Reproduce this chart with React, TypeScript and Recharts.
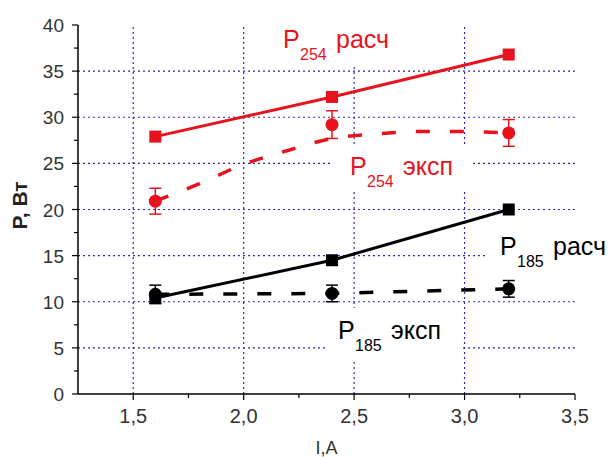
import React from "react";
import {
  ComposedChart,
  Line,
  Scatter,
  ErrorBar,
  XAxis,
  YAxis,
  ReferenceLine
} from "recharts";

// current, A
const currentA = [1.6, 2.4, 3.2];

// P254 calculated / measured, W
const p254Calc = [27.9, 32.2, 36.8];
const p254Exp = [20.9, 29.2, 28.3];
const p254ExpErr = [1.4, 1.5, 1.45];

const p254TrendX = [1.6, 1.8, 2.0, 2.2, 2.4, 2.6, 2.8, 3.0, 3.2];
const p254TrendY = [20.9, 22.8, 24.9, 26.4, 27.7, 28.2, 28.45, 28.45, 28.3];

// P185 calculated / measured, W
const p185Calc = [10.4, 14.5, 20.0];
const p185Exp = [10.8, 10.9, 11.4];
const p185ExpErr = [1.0, 0.9, 0.9];

const xMajor = [1.5, 2.0, 2.5, 3.0, 3.5];
const xMinor = [1.75, 2.25, 2.75, 3.25];
const yMajor = [0, 5, 10, 15, 20, 25, 30, 35, 40];
const yMinor = [2.5, 7.5, 12.5, 17.5, 22.5, 27.5, 32.5, 37.5];
const gridX = [1.5, 2.0, 2.5, 3.0];
const gridY = [5, 10, 15, 20, 25, 30, 35];

const RED = "#e8121c";
const BLUE = "#2b2bb0";
const FONT = "'Liberation Sans', Arial, sans-serif";

const toSeries = (xs: number[], ys: number[], errs?: number[]) =>
  xs.map((x, i) => ({ x, y: ys[i], err: errs ? errs[i] : 0 }));

const commaNum = (v: number) => v.toFixed(1).replace(".", ",");

const XTick = (props: any) => {
  const { x, y, payload } = props;
  const major = xMajor.includes(payload.value);
  return (
    <g>
      <line x1={x} x2={x} y1={y} y2={y + (major ? 6 : 4)} stroke="#000" strokeWidth={1.2} />
      {major && (
        <text x={x} y={y + 29} textAnchor="middle" fontSize={20} fill="#333" fontFamily={FONT}>
          {commaNum(payload.value)}
        </text>
      )}
    </g>
  );
};

const YTick = (props: any) => {
  const { x, y, payload } = props;
  const major = yMajor.includes(payload.value);
  return (
    <g>
      <line x1={x} x2={x - (major ? 6 : 4)} y1={y} y2={y} stroke="#000" strokeWidth={1.2} />
      {major && (
        <text x={x - 14} y={y + 7} textAnchor="end" fontSize={19} fill="#333" fontFamily={FONT}>
          {payload.value}
        </text>
      )}
    </g>
  );
};

const squareDot = (color: string) => (props: any) => {
  const { cx, cy, index } = props;
  return <rect key={index} x={cx - 6} y={cy - 6} width={12} height={12} fill={color} />;
};

const circleShape = (color: string) => (props: any) => {
  const { cx, cy } = props;
  return <circle cx={cx} cy={cy} r={6.5} fill={color} />;
};

// series label with a white box knocking out the grid behind it
function SeriesLabel({
  box,
  x,
  baseline,
  sub,
  word,
  color
}: {
  box: [number, number, number, number];
  x: number;
  baseline: number;
  sub: string;
  word: string;
  color: string;
}) {
  return (
    <g>
      <rect x={box[0]} y={box[1]} width={box[2]} height={box[3]} fill="#fff" />
      <text x={x} y={baseline} fontSize={25} fill={color} fontFamily={FONT}>
        P
      </text>
      <text x={x + 17} y={baseline + 12} fontSize={16} fill={color} fontFamily={FONT}>
        {sub}
      </text>
      <text x={x + 53} y={baseline} fontSize={25} fill={color} fontFamily={FONT}>
        {word}
      </text>
    </g>
  );
}

export default function App() {
  const calc254 = toSeries(currentA, p254Calc);
  const exp254 = toSeries(currentA, p254Exp, p254ExpErr);
  const trend254 = toSeries(p254TrendX, p254TrendY);
  const calc185 = toSeries(currentA, p185Calc);
  const exp185 = toSeries(currentA, p185Exp, p185ExpErr);

  return (
    <div style={{ position: "absolute", left: 0, top: 0, width: 615, height: 457, background: "#fff" }}>
      <ComposedChart
        width={615}
        height={457}
        margin={{ top: 25, right: 40, left: 0, bottom: 0 }}
      >
        <XAxis
          dataKey="x"
          type="number"
          domain={[1.25, 3.5]}
          ticks={[...xMajor, ...xMinor].sort((a, b) => a - b)}
          tick={<XTick />}
          tickLine={false}
          tickSize={0}
          tickMargin={0}
          height={63}
          axisLine={{ stroke: "#000", strokeWidth: 1.5 }}
          interval={0}
          allowDataOverflow
          label={{
            content: (p: any) => {
              const vb = p.viewBox;
              return (
                <text x={vb.x + vb.width / 2} y={vb.y + 60} textAnchor="middle" fontSize={18} fill="#333" fontFamily={FONT}>
                  I,A
                </text>
              );
            }
          }}
        />
        <YAxis
          dataKey="y"
          type="number"
          domain={[0, 40]}
          ticks={[...yMajor, ...yMinor].sort((a, b) => a - b)}
          tick={<YTick />}
          tickLine={false}
          tickSize={0}
          tickMargin={0}
          width={78}
          axisLine={{ stroke: "#000", strokeWidth: 1.5 }}
          interval={0}
          allowDataOverflow
          label={{
            content: (p: any) => {
              const vb = p.viewBox;
              const cy = vb.y + vb.height / 2 - 4;
              return (
                <text
                  x={27}
                  y={cy}
                  transform={`rotate(-90 27 ${cy})`}
                  textAnchor="middle"
                  fontSize={21}
                  fontWeight="bold"
                  fill="#222"
                  fontFamily={FONT}
                >
                  P, Вт
                </text>
              );
            }
          }}
        />
        {gridX.map((v) => (
          <ReferenceLine key={"gx" + v} x={v} stroke={BLUE} strokeWidth={1.2} strokeDasharray="2 3" />
        ))}
        {gridY.map((v) => (
          <ReferenceLine key={"gy" + v} y={v} stroke={BLUE} strokeWidth={1.2} strokeDasharray="2 3" />
        ))}

        <Line
          data={trend254}
          dataKey="y"
          type="monotone"
          stroke={RED}
          strokeWidth={3.5}
          strokeDasharray="14 20"
          dot={false}
          isAnimationActive={false}
        />
        <Line
          data={exp185}
          dataKey="y"
          type="linear"
          stroke="#000"
          strokeWidth={3.5}
          strokeDasharray="14 20"
          dot={false}
          isAnimationActive={false}
        />
        <Line
          data={calc254}
          dataKey="y"
          type="linear"
          stroke={RED}
          strokeWidth={3}
          dot={squareDot(RED)}
          isAnimationActive={false}
        />
        <Line
          data={calc185}
          dataKey="y"
          type="linear"
          stroke="#000"
          strokeWidth={3}
          dot={squareDot("#000")}
          isAnimationActive={false}
        />
        <Scatter data={exp254} dataKey="y" shape={circleShape(RED)} isAnimationActive={false}>
          <ErrorBar dataKey="err" direction="y" width={6} stroke={RED} strokeWidth={1.5} />
        </Scatter>
        <Scatter data={exp185} dataKey="y" shape={circleShape("#000")} isAnimationActive={false}>
          <ErrorBar dataKey="err" direction="y" width={6} stroke="#000" strokeWidth={1.5} />
        </Scatter>
      </ComposedChart>

      <svg
        width={615}
        height={457}
        style={{ position: "absolute", left: 0, top: 0, pointerEvents: "none" }}
      >
        <SeriesLabel box={[270, 20, 135, 45]} x={283} baseline={48} sub="254" word="расч" color={RED} />
        <SeriesLabel box={[333, 147, 139, 43]} x={350} baseline={175} sub="254" word="эксп" color={RED} />
        <SeriesLabel box={[487, 228, 128, 44]} x={500} baseline={255} sub="185" word="расч" color="#000" />
        <SeriesLabel box={[325, 308, 138, 52]} x={338} baseline={339} sub="185" word="эксп" color="#000" />
      </svg>
    </div>
  );
}
